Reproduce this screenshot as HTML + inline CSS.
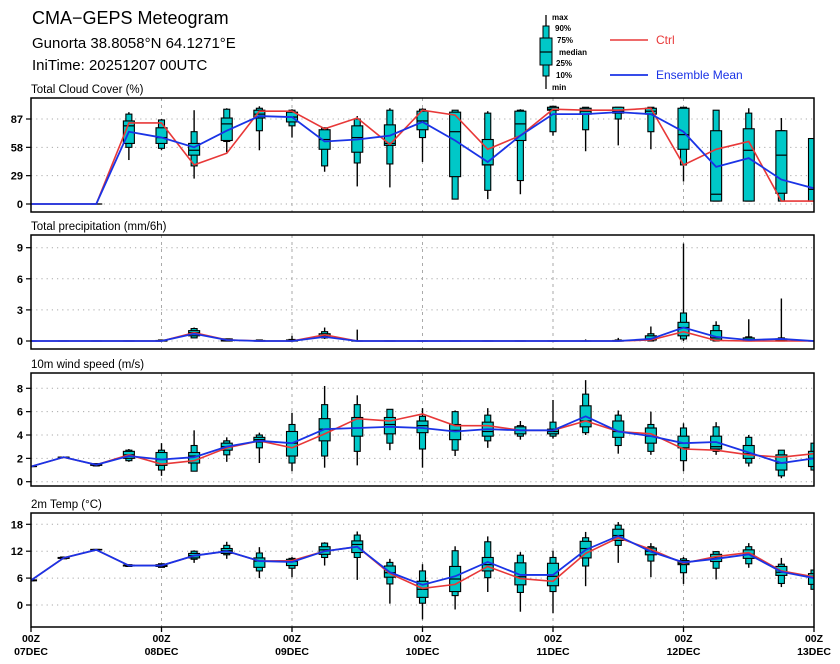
<!DOCTYPE html>
<html><head><meta charset="utf-8"><style>
body{margin:0;background:#fff;}
svg{display:block;font-family:"Liberation Sans",sans-serif;}
</style></head><body>
<svg id="chart" width="840" height="664" viewBox="0 0 840 664" xmlns="http://www.w3.org/2000/svg">
<text x="32" y="24" font-size="18">CMA−GEPS Meteogram</text>
<text x="32" y="48" font-size="15">Gunorta 38.8058°N 64.1271°E</text>
<text x="32" y="70" font-size="15">IniTime: 20251207 00UTC</text>
<g>
<line x1="546" y1="15" x2="546" y2="89" stroke="#000" stroke-width="1.3"/>
<rect x="543" y="26" width="6" height="50" fill="#00c8c8" stroke="#000" stroke-width="1"/>
<rect x="540" y="38" width="12" height="27" fill="#00c8c8" stroke="#000" stroke-width="1"/>
<line x1="540" y1="52" x2="552" y2="52" stroke="#000" stroke-width="1.2"/>
<g font-size="8" font-weight="bold">
<text x="552" y="20">max</text><text x="555" y="31">90%</text><text x="557" y="43">75%</text>
<text x="559" y="55">median</text><text x="556" y="66">25%</text><text x="556" y="78">10%</text><text x="552" y="90">min</text>
</g></g>
<g>
<line x1="610" y1="40" x2="648" y2="40" stroke="#e83838" stroke-width="1.6"/>
<text x="656" y="44" font-size="12" fill="#e83838">Ctrl</text></g>
<g>
<line x1="610" y1="75" x2="648" y2="75" stroke="#1a33e6" stroke-width="1.8"/>
<text x="656" y="79" font-size="12" fill="#1a33e6">Ensemble Mean</text></g>
<g id="plots"></g>
</svg>
<script>
const dayLabels=["07DEC","08DEC","09DEC","10DEC","11DEC","12DEC","13DEC"];
// Cloud cover (%)
const cloudMin=[null,null,0,45,55,26,53,55,68,33,18,17,43,5,5,10,70,54,60,56,23,3,3,3,3];
const cloudP10=[null,null,0,58,57,39,64,75,80,39,42,41,68,5,14,24,74,76,87,74,40,3,3,3,3];
const cloudP25=[null,null,0,62,62,50,65,88,84,56,53,60,76,28,40,65,96,92,93,92,56,3,3,11,3];
const cloudMed=[null,null,0,80,68,55,82,92,89,66,68,62,85,74,40,82,97,95,95,95,71,10,55,50,15];
const cloudP75=[null,null,0,85,78,62,88,96,94,76,80,81,95,94,66,95,99,98,99,98,98,75,77,75,67];
const cloudP90=[null,null,0,92,86,74,97,98,96,78,87,96,97,96,93,96,100,99,99,99,99,96,93,75,67];
const cloudMax=[null,null,0,94,87,96,98,100,97,78,90,98,98,96,95,97,100,99,99,99,99,96,98,88,67];
const cloudCtrl=[0,0,0,83,83,40,52,95,95,77,88,61,96,91,56,70,97,96,96,98,40,56,64,3,3];
const cloudMean=[0,0,0,74,68,58,75,90,89,64,66,70,84,65,43,70,92,92,94,92,74,38,47,25,16];
// Precipitation (mm/6h)
const prMin=[0,0,0,0,0,0.3,0,0,0,0.2,0,0,0,0,0,0,0,0,0,0,0,0,0,0,0];
const prP10=[0,0,0,0,0,0.3,0,0,0,0.3,0,0,0,0,0,0,0,0,0,0,0.2,0,0,0,0];
const prP25=[0,0,0,0,0,0.5,0,0,0,0.4,0,0,0,0,0,0,0,0,0,0.1,0.5,0.1,0,0,0];
const prMed=[0,0,0,0,0,0.8,0.1,0,0,0.5,0,0,0,0,0,0,0,0,0,0.2,1.3,0.3,0.1,0.1,0];
const prP75=[0,0,0,0,0.05,1.0,0.2,0.05,0.1,0.7,0,0,0,0,0,0,0,0,0.05,0.5,1.8,1.0,0.3,0.2,0];
const prP90=[0,0,0,0,0.1,1.2,0.2,0.1,0.15,0.9,0,0,0,0,0,0,0,0,0.1,0.7,2.7,1.5,0.4,0.3,0];
const prMax=[0,0,0,0,0.1,1.3,0.2,0.1,0.5,1.3,1.1,0,0,0,0,0,0,0.15,0.3,1.4,9.4,1.9,2.1,4.1,0];
const prCtrl=[0,0,0,0,0,0.8,0.1,0,0,0.6,0,0,0,0,0,0,0,0,0,0.1,0.9,0.05,0,0,0];
const prMean=[0,0,0,0,0,0.7,0.1,0,0,0.4,0,0,0,0,0,0,0,0,0,0.2,1.3,0.4,0.1,0.2,0];
// 10m wind (m/s)
const wMin=[1.3,2.1,1.35,1.7,0.5,0.9,1.7,1.6,0.9,1.2,1.4,2.7,1.2,2.2,2.9,3.6,3.7,4.0,2.4,2.3,0.9,2.3,1.3,0.3,0.9];
const wP10=[1.3,2.1,1.35,1.8,1.0,0.9,2.3,2.9,1.6,2.2,2.6,3.3,2.8,2.7,3.5,3.9,3.9,4.2,3.1,2.6,1.8,2.6,1.6,0.5,1.0];
const wP25=[1.3,2.1,1.4,2.0,1.4,1.6,2.7,3.4,2.2,3.5,3.9,4.1,4.2,3.6,3.9,4.1,4.1,4.7,3.8,3.3,2.9,2.8,2.0,1.0,1.3];
const wMed=[1.3,2.1,1.45,2.3,1.9,2.2,3.0,3.6,3.3,4.5,4.6,4.9,4.8,4.4,4.3,4.4,4.3,5.2,4.3,3.9,3.3,3.0,2.4,1.6,2.0];
const wP75=[1.3,2.1,1.5,2.6,2.5,2.5,3.3,3.8,4.3,5.4,5.5,5.5,5.2,4.9,5.1,4.7,4.5,6.5,5.2,4.6,3.9,3.9,3.1,2.3,2.6];
const wP90=[1.3,2.1,1.55,2.7,2.7,3.1,3.5,4.0,4.9,6.6,6.6,6.2,5.6,6.0,5.7,4.8,5.1,7.5,5.7,4.9,4.6,4.7,3.8,2.7,3.3];
const wMax=[1.3,2.1,1.55,2.8,3.3,4.4,3.8,4.2,5.9,8.2,7.4,6.2,6.3,6.1,6.3,5.2,7.0,8.7,6.1,6.0,5.0,5.1,4.0,2.7,3.3];
const wCtrl=[1.3,2.1,1.45,2.3,1.5,1.8,2.9,3.5,2.9,4.1,5.4,5.2,5.8,4.8,4.8,4.4,4.4,5.2,4.3,4.1,2.8,2.7,2.3,2.1,2.4];
const wMean=[1.3,2.1,1.45,2.2,1.9,2.1,3.0,3.5,3.3,4.5,4.6,4.7,4.6,4.3,4.5,4.4,4.4,5.6,4.3,3.9,3.3,3.4,2.5,1.6,2.0];
// 2m temperature (°C)
const tMin=[5.4,10.3,12.2,8.6,8.4,9.4,10.3,6.0,6.2,8.8,5.6,0.3,-3.2,-1.0,2.9,-1.5,-1.8,4.2,9.4,6.2,4.7,5.7,8.3,4.0,3.5];
const tP10=[5.4,10.3,12.2,8.6,8.4,10.2,11.2,7.6,8.2,10.6,10.6,4.7,0.4,2.1,6.1,2.8,3.0,8.7,13.3,9.8,7.2,8.2,9.2,4.8,3.5];
const tP25=[5.4,10.4,12.3,8.7,8.6,10.5,11.5,8.4,8.8,11.3,11.7,6.2,1.7,3.0,7.6,4.5,4.3,10.5,14.4,11.2,9.0,9.7,10.4,6.6,4.6];
const tMed=[5.5,10.5,12.3,8.8,8.8,11.0,12.1,9.8,9.7,12.3,13.5,7.2,3.5,5.8,9.0,6.3,6.4,12.6,15.5,12.0,9.3,10.5,11.3,7.3,6.4];
const tP75=[5.6,10.6,12.4,8.9,9.0,11.5,12.6,10.5,10.2,13.0,14.3,8.7,5.3,8.6,10.6,9.4,9.3,14.2,16.9,12.7,9.9,11.3,12.3,8.6,7.0];
const tP90=[5.6,10.7,12.4,9.0,9.2,12.0,13.3,11.6,10.4,13.8,15.6,9.5,7.6,12.1,14.1,11.1,10.6,15.0,17.8,13.0,10.3,11.9,13.0,9.1,7.8];
const tMax=[5.6,10.7,12.4,9.0,9.2,12.2,14.1,12.9,10.7,14.0,16.4,10.3,9.1,13.1,15.3,11.8,12.1,16.3,18.5,13.8,10.7,12.0,13.8,10.5,7.8];
const tCtrl=[5.5,10.5,12.3,8.8,8.8,11.0,12.0,9.8,9.9,12.0,13.0,7.0,3.7,4.6,8.6,5.9,5.3,11.5,15.0,12.4,9.3,10.8,11.7,7.6,6.3];
const tMean=[5.5,10.5,12.3,8.8,8.8,11.0,12.0,9.8,9.6,12.0,13.0,7.3,4.5,6.4,9.6,6.7,6.7,12.3,15.4,11.9,9.5,10.3,11.3,7.4,6.0];

const NS="http://www.w3.org/2000/svg";
const X0=31,X1=814,N=24;
const xs=i=>X0+(X1-X0)*i/N;
function el(tag,attrs,parent){const e=document.createElementNS(NS,tag);for(const k in attrs)e.setAttribute(k,attrs[k]);parent.appendChild(e);return e;}
const plots=document.getElementById('plots');
const panels=[
 {name:'cloud-cover',title:'Total Cloud Cover (%)',top:98,bot:212,v0:0,p0:204,v1:87,p1:119,ticks:[0,29,58,87],d:[cloudMin,cloudP10,cloudP25,cloudMed,cloudP75,cloudP90,cloudMax],ctrl:cloudCtrl,mean:cloudMean},
 {name:'precipitation',title:'Total precipitation (mm/6h)',top:235,bot:349,v0:0,p0:341,v1:9,p1:247.7,ticks:[0,3,6,9],d:[prMin,prP10,prP25,prMed,prP75,prP90,prMax],ctrl:prCtrl,mean:prMean},
 {name:'wind-speed',title:'10m wind speed (m/s)',top:373,bot:486,v0:0,p0:481.7,v1:8,p1:388.3,ticks:[0,2,4,6,8],d:[wMin,wP10,wP25,wMed,wP75,wP90,wMax],ctrl:wCtrl,mean:wMean},
 {name:'temperature',title:'2m Temp (°C)',top:513,bot:627,v0:0,p0:605,v1:18,p1:524.3,ticks:[0,6,12,18],d:[tMin,tP10,tP25,tMed,tP75,tP90,tMax],ctrl:tCtrl,mean:tMean}
];
panels.forEach((p,pi)=>{
 const y=v=>p.p0+(v-p.v0)*(p.p1-p.p0)/(p.v1-p.v0);
 const g=el('g',{},plots);
 
 
 const t=el('text',{x:31,y:p.top-5,'font-size':11.5},g);t.textContent=p.title;
 
 
 const cp=el('clipPath',{id:'clip'+pi},g);el('rect',{x:X0,y:p.top,width:X1-X0,height:p.bot-p.top},cp);
 // grid
 p.ticks.forEach(v=>{
  const l=el('line',{x1:X0,x2:X1,y1:y(v),y2:y(v),stroke:'#aaa','stroke-width':1,'stroke-dasharray':'1.2 4'},g);
  
  
  el('line',{x1:X0-5,x2:X0,y1:y(v),y2:y(v),stroke:'#000','stroke-width':1.2},g);
  const tl=el('text',{x:23,y:y(v)+4,'font-size':11,'font-weight':'bold','text-anchor':'end'},g);tl.textContent=v;
  
  
 });
 for(let d=1;d<6;d++){
  const l=el('line',{x1:xs(d*4),x2:xs(d*4),y1:p.top,y2:p.bot,stroke:'#aaa','stroke-width':1,'stroke-dasharray':'3 4'},g);
  
  
 }
 const body=el('g',{'clip-path':'url(#clip'+pi+')'},g);
 const [mn,p10,p25,md,p75,p90,mx]=p.d;
 for(let i=0;i<=N;i++){
  if(mn[i]===null)continue;
  const x=xs(i);
  const b=el('g',{},body);
  
  
  el('line',{x1:x,x2:x,y1:y(mn[i]),y2:y(mx[i]),stroke:'#000','stroke-width':1.4},b);
  el('rect',{x:x-3,y:y(p90[i]),width:6,height:Math.max(0.01,y(p10[i])-y(p90[i])),fill:'#00c8c8',stroke:'#000','stroke-width':1.1},b);
  el('rect',{x:x-5.5,y:y(p75[i]),width:11,height:Math.max(0.01,y(p25[i])-y(p75[i])),fill:'#00c8c8',stroke:'#000','stroke-width':1.1},b);
  el('line',{x1:x-5.5,x2:x+5.5,y1:y(md[i]),y2:y(md[i]),stroke:'#000','stroke-width':1.2},b);
 }
 const pts=a=>a.map((v,i)=>xs(i)+','+y(v)).join(' ');
 const lc=el('polyline',{points:pts(p.ctrl),fill:'none',stroke:'#e83838','stroke-width':1.6},body);
 
 
 const lm=el('polyline',{points:pts(p.mean),fill:'none',stroke:'#1a33e6','stroke-width':1.8},body);
 
 
 const fr=el('rect',{x:X0,y:p.top,width:X1-X0,height:p.bot-p.top,fill:'none',stroke:'#000','stroke-width':1.5},g);
 
 
 if(pi===3){
  for(let d=0;d<=6;d++){
   const x=xs(d*4);
   el('line',{x1:x,x2:x,y1:p.bot,y2:p.bot+5,stroke:'#000','stroke-width':1.3},g);
   const a=el('text',{x:x,y:642,'font-size':10.5,'font-weight':'bold','text-anchor':'middle'},g);a.textContent='00Z';
   
   
   const b=el('text',{x:x,y:655,'font-size':10.5,'font-weight':'bold','text-anchor':'middle'},g);b.textContent=dayLabels[d];
   
   
  }
 }
});
</script>
</body></html>
